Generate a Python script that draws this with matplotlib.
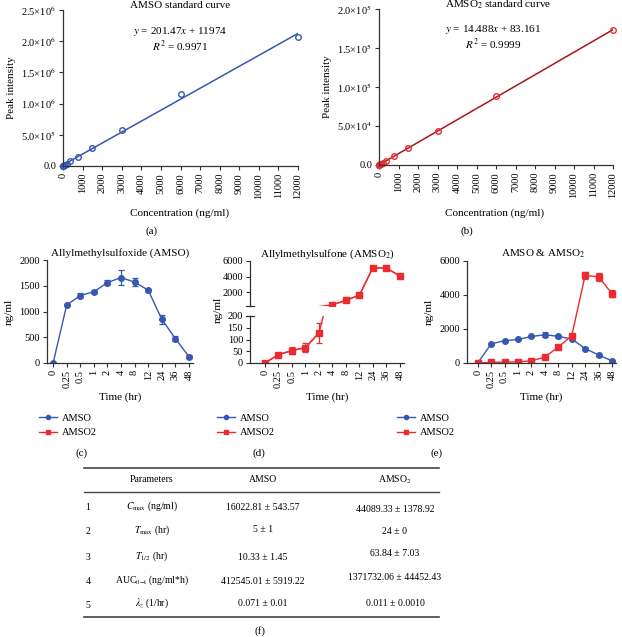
import matplotlib.pyplot as plt
import numpy as np
from matplotlib.lines import Line2D

plt.rcParams['font.family'] = 'Liberation Serif'
plt.rcParams['mathtext.fontset'] = 'stix'
plt.rcParams['font.size'] = 7.5

W, H = 622, 637
def fx(x): return x / W
def fy(y): return 1 - y / H
def box(l, t, r, b): return [fx(l), fy(b), (r - l) / W, (b - t) / H]

blue = '#3757b3'
red = '#ec2a30'
darkred = '#a3181f'

# standard curves
conc = [0, 11.7, 23.4, 46.9, 93.75, 187.5, 375, 750, 1500, 3000, 6000, 12000]
amso_peak = [0, 3000, 6000, 12000, 22000, 40000, 80000, 145000, 290000, 580000, 1160000, 2070000]
amso2_peak = [0, 250, 400, 750, 1400, 2800, 5500, 11000, 22000, 43000, 88000, 173000]

# pharmacokinetics
times = ['0', '0.25', '0.5', '1', '2', '4', '8', '12', '24', '36', '48']
amso = [0, 1125, 1310, 1385, 1560, 1660, 1570, 1415, 850, 475, 125]
amso_err = [0, 20, 45, 35, 55, 150, 75, 30, 90, 45, 35]
amso2 = [0, 35, 53, 65, 128, 350, 935, 1600, 5150, 5070, 4080]
amso2_err = [0, 9, 14, 20, 44, 40, 60, 80, 200, 250, 210]

# table
params = [r'$C_{\mathrm{max}}$ (ng/ml)', r'$T_{\mathrm{max}}$ (hr)', r'$T_{1/2}$ (hr)',
          r'AUC$_{0\mathrm{-t}}$ (ng/ml*h)', r'$\lambda_z$ (1/hr)']
amso_vals = ['16022.81 ± 543.57', '5 ± 1', '10.33 ± 1.45', '412545.01 ± 5919.22', '0.071 ± 0.01']
amso2_vals = ['44089.33 ± 1378.92', '24 ± 0', '63.84 ± 7.03', '1371732.06 ± 44452.43', '0.011 ± 0.0010']

fig = plt.figure(figsize=(6.22, 6.37), dpi=100)

def style(ax):
    for s in ['top', 'right']:
        ax.spines[s].set_visible(False)
    for s in ['left', 'bottom']:
        ax.spines[s].set_color('#333333')
        ax.spines[s].set_linewidth(0.9)
    ax.tick_params(length=3, width=0.8, color='#333333', labelsize=7.5, pad=2)

def std_panel(rect, peak, mc, lc, ymax, yticks, ylabels):
    ax = fig.add_axes(rect)
    style(ax)
    k, b = np.polyfit(conc, peak, 1)
    xx = np.array([0, 12000])
    ax.plot(xx, k * xx + b, color=lc, lw=1.1)
    ax.plot(conc, peak, 'o', mfc='none', mec=mc, ms=4, mew=1, clip_on=False)
    ax.set_xlim(0, 12000)
    ax.set_ylim(0, ymax)
    ax.set_xticks(range(0, 12001, 1000))
    ax.set_xticklabels([str(v) for v in range(0, 12001, 1000)], rotation=90)
    ax.set_yticks(yticks)
    ax.set_yticklabels(ylabels)
    ax.set_ylabel('Peak intensity', fontsize=8)
    return ax

# (a)
std_panel(box(63, 10, 298, 166), amso_peak, blue, blue, 2.5e6,
          [0, 5e5, 1e6, 1.5e6, 2e6, 2.5e6],
          ['0.0', r'5.0×10$^5$', r'1.0×10$^6$', r'1.5×10$^6$', r'2.0×10$^6$', r'2.5×10$^6$'])
fig.text(fx(180), fy(5), 'AMSO standard curve', ha='center', va='center', fontsize=8)
fig.text(fx(180), fy(32), r'$y$ = 201.47$x$ + 11974', ha='center', va='center', fontsize=8)
fig.text(fx(180), fy(46), r'$R^2$ = 0.9971', ha='center', va='center', fontsize=8)
fig.text(fx(180), fy(213), 'Concentration (ng/ml)', ha='center', va='center', fontsize=8)
fig.text(fx(152), fy(231), '(a)', ha='center', va='center', fontsize=8)

# (b)
std_panel(box(379, 9, 613, 165), amso2_peak, red, darkred, 2e5,
          [0, 5e4, 1e5, 1.5e5, 2e5],
          ['0.0', r'5.0×10$^4$', r'1.0×10$^5$', r'1.5×10$^5$', r'2.0×10$^5$'])
fig.text(fx(498), fy(5), 'AMSO$_2$ standard curve', ha='center', va='center', fontsize=8)
fig.text(fx(493), fy(30), r'$y$ = 14.488$x$ + 83.161', ha='center', va='center', fontsize=8)
fig.text(fx(493), fy(44), r'$R^2$ = 0.9999', ha='center', va='center', fontsize=8)
fig.text(fx(495), fy(213), 'Concentration (ng/ml)', ha='center', va='center', fontsize=8)
fig.text(fx(467), fy(231), '(b)', ha='center', va='center', fontsize=8)

pos = np.arange(len(times))

def time_axis(ax, lo):
    ax.set_xlim(lo, 10.3)
    ax.set_xticks(pos)
    ax.set_xticklabels(times, rotation=90)

def draw(ax, x, y, e, c, m):
    ax.errorbar(x, y, yerr=e, color=c, marker=m, ms=4, lw=1, elinewidth=0.9,
                capsize=2.5, capthick=0.9)

# (c)
ax = fig.add_axes(box(47, 260, 193, 363))
style(ax)
draw(ax, pos, amso, amso_err, blue, 'o')
ax.set_ylim(0, 2000)
ax.set_yticks(range(0, 2001, 500))
time_axis(ax, -0.45)
ax.set_ylabel('ng/ml', fontsize=8)
ax.set_xlabel('Time (hr)', fontsize=8, labelpad=3)
ax.set_title('Allylmethylsulfoxide (AMSO)', fontsize=8, pad=3)

# (d) broken axis
axt = fig.add_axes(box(250, 261, 404, 306))
axb = fig.add_axes(box(250, 316, 404, 363))
for a in (axt, axb):
    style(a)
    time_axis(a, -1.1)
# lower part: first points, line continues up to the break
axb.plot(pos[:6], amso2[:6], color=red, lw=1)
draw(axb, pos[:5], amso2[:5], amso2_err[:5], red, 's')
# upper part: line comes in from the 2 hr point
axt.plot(pos[4:], amso2[4:], color=red, lw=1)
draw(axt, pos[5:], amso2[5:], amso2_err[5:], red, 's')
axt.set_ylim(200, 6000)
axt.set_yticks([2000, 4000, 6000])
axt.spines['bottom'].set_visible(False)
axt.tick_params(axis='x', bottom=False, labelbottom=False)
axb.set_ylim(0, 200)
axb.set_yticks(range(0, 201, 50))
for a, yv in ((axt, 0), (axb, 1)):
    a.add_line(Line2D([-0.025, 0.025], [yv, yv], transform=a.transAxes,
                      color='#333333', lw=0.9, clip_on=False))
axb.set_xlabel('Time (hr)', fontsize=8, labelpad=3)
fig.text(fx(218), fy(310), 'ng/ml', rotation=90, ha='center', va='center', fontsize=8)
axt.set_title('Allylmethylsulfone (AMSO$_2$)', fontsize=8, pad=3)

# (e)
ax = fig.add_axes(box(467, 261, 616, 363))
style(ax)
draw(ax, pos, amso, amso_err, blue, 'o')
draw(ax, pos, amso2, amso2_err, red, 's')
ax.set_ylim(0, 6000)
ax.set_yticks(range(0, 6001, 2000))
time_axis(ax, -0.8)
ax.set_ylabel('ng/ml', fontsize=8)
ax.set_xlabel('Time (hr)', fontsize=8, labelpad=3)
fig.text(fx(543), fy(254), 'AMSO & AMSO$_2$', ha='center', va='center', fontsize=8)

# legends
handles = [Line2D([], [], color=blue, marker='o', ms=3, lw=1),
           Line2D([], [], color=red, marker='s', ms=3, lw=1)]
for lx, lab, cx in ((30, '(c)', 82), (208, '(d)', 259), (388, '(e)', 437)):
    fig.legend(handles, ['AMSO', 'AMSO2'], loc='upper left', bbox_to_anchor=(fx(lx), fy(404)),
               frameon=False, fontsize=7.5, handlelength=1.7, labelspacing=0.5, handletextpad=0.5)
    fig.text(fx(cx), fy(453), lab, ha='center', va='center', fontsize=8)

# (f) table
tf = 7
for yl, lw in ((468, 1.2), (492, 1.0), (617, 1.2)):
    fig.add_artist(Line2D([fx(84), fx(439)], [fy(yl), fy(yl)], color='#444444', lw=lw))
fig.text(fx(152), fy(479), 'Parameters', ha='center', va='center', fontsize=tf)
fig.text(fx(263), fy(479), 'AMSO', ha='center', va='center', fontsize=tf)
fig.text(fx(395), fy(480), 'AMSO$_2$', ha='center', va='center', fontsize=tf)
row_y = [506, 530, 556, 580, 603]
amso_y = [508, 529, 557, 582, 603]
amso2_y = [510, 532, 554, 578, 603]
for i in range(5):
    fig.text(fx(88), fy(row_y[i] + 2), str(i + 1), ha='center', va='center', fontsize=tf)
    fig.text(fx(152), fy(row_y[i]), params[i], ha='center', va='center', fontsize=tf)
    fig.text(fx(263), fy(amso_y[i]), amso_vals[i], ha='center', va='center', fontsize=tf)
    fig.text(fx(395), fy(amso2_y[i]), amso2_vals[i], ha='center', va='center', fontsize=tf)
fig.text(fx(260), fy(631), '(f)', ha='center', va='center', fontsize=8)

fig.savefig('out.png', dpi=100)
